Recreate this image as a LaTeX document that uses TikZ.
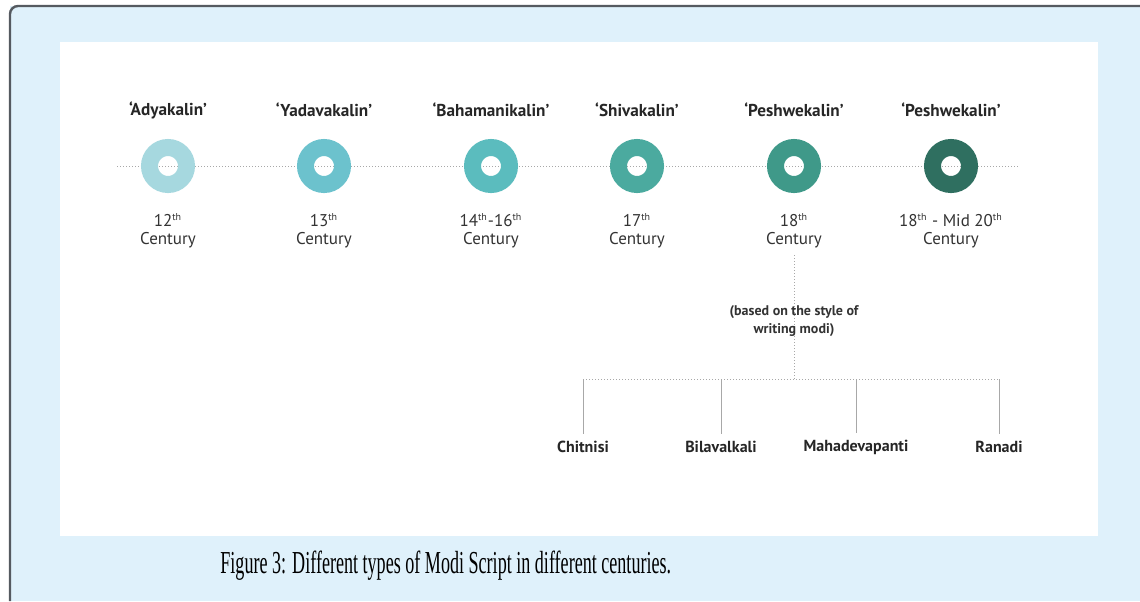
\documentclass[tikz,border=0pt]{standalone}
\usepackage{graphicx}
\usepackage{fontspec}
\setmainfont{PT Sans}
\newfontfamily\capfont{Liberation Serif}
\usetikzlibrary{positioning}
\definecolor{paneblue}{HTML}{DFF1FB}
\definecolor{framegray}{HTML}{555A60}
\definecolor{linegray}{HTML}{A8A8A8}
\definecolor{ringA}{HTML}{A6D8DF}
\definecolor{ringB}{HTML}{6CC2CD}
\definecolor{ringC}{HTML}{5BBCBE}
\definecolor{ringD}{HTML}{4BAA9F}
\definecolor{ringE}{HTML}{3F9989}
\definecolor{ringF}{HTML}{2F6F60}
\newcommand{\thsup}{\textsuperscript{\fontsize{5}{5}\selectfont th}}
\tikzset{
  ring/.style={circle, draw=#1, line width=8.5pt, minimum size=18.5pt, inner sep=0pt},
  era/.style={font=\bfseries\fontsize{8.6}{9.5}\selectfont, text=black!85},
  century/.style={align=center, font=\fontsize{8.5}{9}\selectfont, text=black!80},
  branch/.style={font=\bfseries\fontsize{8}{9.5}\selectfont, text=black!85},
  treeline/.style={linegray, line width=0.5pt},
  dotline/.style={linegray, densely dotted, line width=0.5pt}
}
\begin{document}
\begin{tikzpicture}[x=0.5pt, y=-0.5pt]
  \useasboundingbox (0,0) rectangle (1140,601);
  % panel and frame
  \fill[paneblue] (10,6) rectangle (1140,601);
  \draw[framegray, line width=1.2pt, rounded corners=4pt] (10,601) -- (10,6) -- (1140,6);
  \fill[white] (60,42) rectangle (1098,536);
  % timeline
  \coordinate (tl-start) at (117,166);
  \coordinate (tl-end) at (1020,166);
  \draw[dotline] (tl-start) -- (tl-end);
  \foreach \x/\col/\era/\yr [count=\i] in {168/ringA/Adyakalin/12\thsup,
      324/ringB/Yadavakalin/13\thsup,
      491/ringC/Bahamanikalin/14\thsup-16\thsup,
      637/ringD/Shivakalin/17\thsup,
      794/ringE/Peshwekalin/18\thsup,
      951/ringF/Peshwekalin/18\thsup{} - Mid 20\thsup} {
    \node[ring=\col] (r\i) at (\x,166) {};
    \node[era] (e\i) at (\x,110) {‘\era’};
    \node[century] (c\i) at (\x,231) {\yr\\Century};
  }
  % branches of the 18th century
  \coordinate (hub) at (794,379);
  \draw[dotline] (c5.south) -- (hub);
  \node[align=center, font=\bfseries\fontsize{7}{9}\selectfont, text=black!80] (basis) at (794,321) {(based on the style of\\writing modi)};
  \foreach \x/\name [count=\i] in {583/Chitnisi, 721/Bilavalkali, 856/Mahadevapanti, 999/Ranadi}
    \node[branch] (b\i) at (\x,447) {\name};
  \draw[dotline] (b1.north |- hub) -- (b4.north |- hub);
  \foreach \i in {1,...,4}
    \draw[treeline] (b\i.north |- hub) -- (b\i.north);
  % caption
  \node[anchor=west, inner sep=0pt, font=\capfont\fontsize{16}{18}\selectfont] (caption) at (220,566)
    {\scalebox{0.565}[1]{Figure 3: Different types of Modi Script in different centuries.}};
\end{tikzpicture}
\end{document}
